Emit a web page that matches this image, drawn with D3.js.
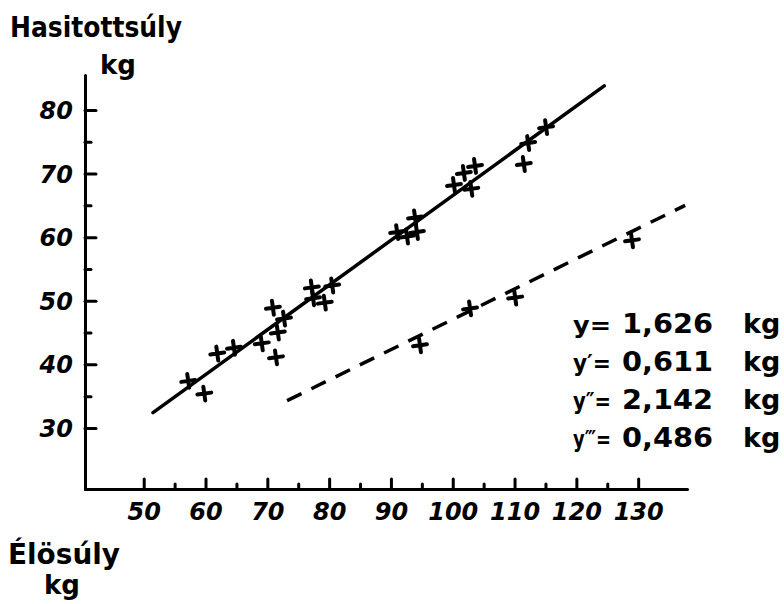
<!DOCTYPE html>
<html>
<head>
<meta charset="utf-8">
<script src="https://cdn.jsdelivr.net/npm/d3@7"></script>
<style>
  body { margin: 0; background: #fff; }
  text { font-family: "DejaVu Sans", sans-serif; fill: #000; }
</style>
</head>
<body>
<div id="chart"></div>
<script>
// live weight (x) vs dressed weight (y), kg
var solidX = [57.2, 59.8, 61.9, 64.6, 69.1, 71.4, 70.9, 71.7, 72.7, 77.2, 77.4, 79.3, 80.5,
              91.0, 92.6, 93.9, 94.2, 100.2, 101.8, 103.6, 103.0, 111.5, 112.2, 115.1]
var solidY = [37.4, 35.4, 41.7, 42.6, 43.3, 41.1, 48.9, 45.0, 47.2, 52.1, 50.4, 49.7, 52.4,
              60.8, 60.1, 63.1, 60.8, 68.2, 70.1, 71.2, 67.6, 71.5, 74.8, 77.3]
var dashX = [94.7, 102.8, 110.1, 129.0]
var dashY = [43.0, 48.8, 50.5, 59.5]

// regression lines (end points)
var solidLineX = [51.5, 124.5]
var solidLineY = [32.4, 83.8]
var dashLineX = [73.2, 137.6]
var dashLineY = [34.3, 65.0]

var xTicks = [50, 60, 70, 80, 90, 100, 110, 120, 130]
var xMinor = [55, 65, 75, 85, 95, 105, 115, 125]
var yTicks = [30, 40, 50, 60, 70, 80]
var yMinor = [35, 45, 55, 65, 75]

var legendLabels = ["y", "y′", "y″", "y‴"]
var legendValues = ["1,626", "0,611", "2,142", "0,486"]
var legendUnit = "kg"

var width = 784
var height = 604

var svg = d3.select("#chart")
            .append("svg")
            .attr("width", width)
            .attr("height", height)
            .style("display", "block")

var x = d3.scaleLinear().domain([40.5, 137.9]).range([85, 687])
var y = d3.scaleLinear().domain([20.4, 85.5]).range([489, 75])

// axes
var xAxis = svg.append("g")
    .attr("transform", "translate(0," + y.range()[0] + ")")
    .call(d3.axisBottom(x).tickValues(xTicks).tickSizeInner(-10).tickSizeOuter(0).tickPadding(14))
var xAxisMinor = svg.append("g")
    .attr("transform", "translate(0," + y.range()[0] + ")")
    .call(d3.axisBottom(x).tickValues(xMinor).tickSizeInner(-5).tickSizeOuter(0).tickFormat(""))
xAxisMinor.select(".domain").remove()

var yAxis = svg.append("g")
    .attr("transform", "translate(" + x.range()[0] + ",0)")
    .call(d3.axisLeft(y).tickValues(yTicks).tickSizeInner(-11).tickSizeOuter(0).tickPadding(12))
var yAxisMinor = svg.append("g")
    .attr("transform", "translate(" + x.range()[0] + ",0)")
    .call(d3.axisLeft(y).tickValues(yMinor).tickSizeInner(-6).tickSizeOuter(0).tickFormat(""))
yAxisMinor.select(".domain").remove()

svg.selectAll(".domain, .tick line")
    .attr("stroke", "#000")
    .attr("stroke-width", 3)
    .attr("stroke-linecap", "round")

svg.selectAll(".tick text")
    .attr("font-size", 24)
    .attr("font-weight", "bold")
    .attr("font-style", "italic")
    .attr("font-family", "DejaVu Sans, sans-serif")
    .attr("fill", "#000")
yAxis.selectAll(".tick text").attr("dy", "0.36em")

// regression lines
var line = d3.line()
    .x(function(d) { return x(d[0]) })
    .y(function(d) { return y(d[1]) })

svg.append("path")
    .datum(d3.zip(solidLineX, solidLineY))
    .attr("d", line)
    .attr("fill", "none")
    .attr("stroke", "#000")
    .attr("stroke-width", 3.5)
    .attr("stroke-linecap", "round")

svg.append("path")
    .datum(d3.zip(dashLineX, dashLineY))
    .attr("d", line)
    .attr("fill", "none")
    .attr("stroke", "#000")
    .attr("stroke-width", 3.5)
    .attr("stroke-dasharray", "16,11")

// crosses
var cross = "M-7,0H7M0,-7V7"
function drawCrosses(xs, ys){
    svg.append("g")
        .selectAll("path")
        .data(d3.zip(xs, ys))
        .enter()
        .append("path")
        .attr("d", cross)
        .attr("transform", function(d){ return "translate(" + x(d[0]) + "," + y(d[1]) + ") rotate(-8)" })
        .attr("stroke", "#000")
        .attr("stroke-width", 4)
        .attr("stroke-linecap", "round")
}
drawCrosses(solidX, solidY)
drawCrosses(dashX, dashY)

// axis titles
svg.append("text").attr("x", 10).attr("y", 37)
    .attr("font-size", 28).attr("font-weight", "bold")
    .attr("textLength", 172).attr("lengthAdjust", "spacingAndGlyphs")
    .text("Hasitottsúly")
svg.append("text").attr("x", 100).attr("y", 74)
    .attr("font-size", 26).attr("font-weight", "bold")
    .text("kg")

svg.append("text").attr("x", 8).attr("y", 564)
    .attr("font-size", 28).attr("font-weight", "bold")
    .attr("textLength", 112).attr("lengthAdjust", "spacingAndGlyphs")
    .text("Élösúly")
svg.append("text").attr("x", 44).attr("y", 594)
    .attr("font-size", 26).attr("font-weight", "bold")
    .text("kg")

// formulas
var legend = svg.append("g")
legendLabels.forEach(function(lab, i){
    var yy = 333 + i * 38
    legend.append("text").attr("x", 573).attr("y", yy)
        .attr("font-size", 23).attr("font-weight", "bold")
        .attr("textLength", 38).attr("lengthAdjust", "spacingAndGlyphs")
        .text(lab + "=")
    legend.append("text").attr("x", 622).attr("y", yy)
        .attr("font-size", 27).attr("font-weight", "bold")
        .attr("textLength", 91).attr("lengthAdjust", "spacingAndGlyphs")
        .text(legendValues[i])
    legend.append("text").attr("x", 743).attr("y", yy)
        .attr("font-size", 27).attr("font-weight", "bold")
        .text(legendUnit)
})
</script>
</body>
</html>
